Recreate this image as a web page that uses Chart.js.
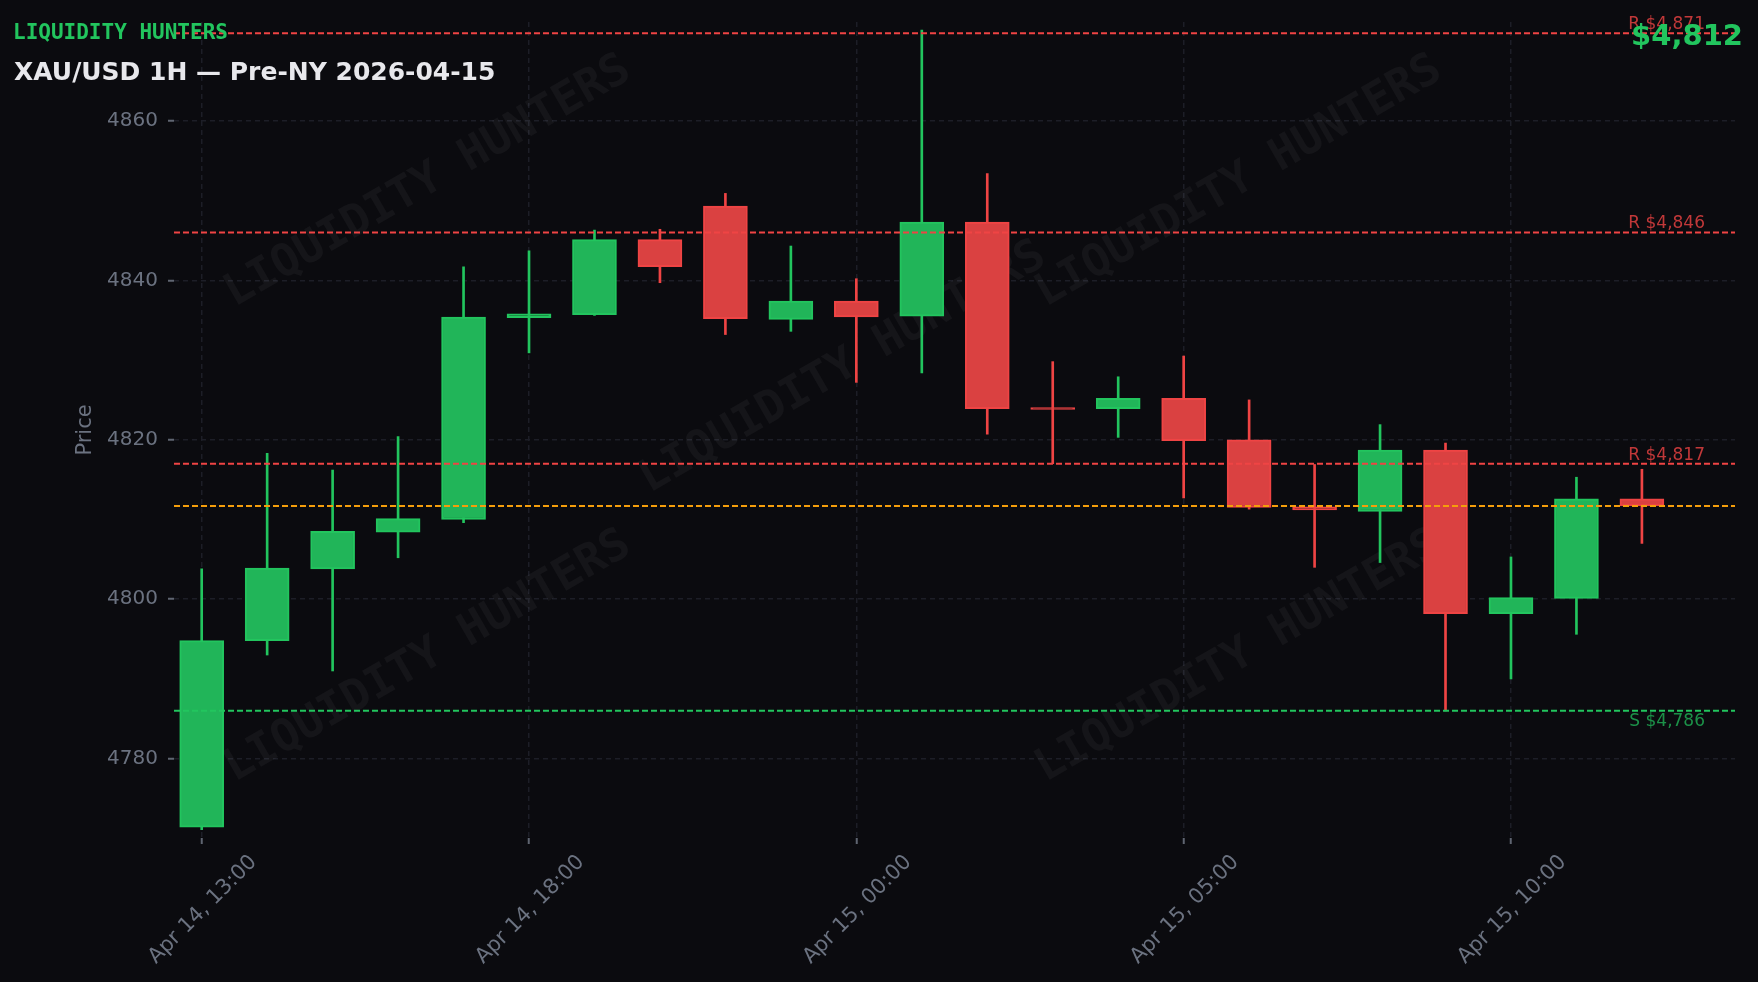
<!DOCTYPE html>
<html>
<head>
<meta charset="utf-8">
<script src="https://cdn.jsdelivr.net/npm/chart.js@4.4.1/dist/chart.umd.min.js"></script>
<style>
  html, body { margin: 0; padding: 0; background: #0b0b0f; }
  #wrap { position: relative; width: 1758px; height: 982px; overflow: hidden; background: #0b0b0f; }
  #c { position: absolute; left: 0; top: 0; }
  .t { position: absolute; white-space: nowrap; line-height: 1; }
  #brand { left: 13px; top: 22px; font: bold 21px/1 "DejaVu Sans Mono", monospace; color: #22c55e; }
  #title { left: 14px; top: 59px; font: bold 25px/1 "DejaVu Sans", sans-serif; color: #e8e8ec; }
  #price { right: 15px; top: 21px; font: bold 29px/1 "DejaVu Sans", sans-serif; color: #22c55e; }
</style>
</head>
<body>
<div id="wrap">
  <canvas id="c" width="1758" height="982" style="width:1758px;height:982px"></canvas>
  <div class="t" id="brand">LIQUIDITY HUNTERS</div>
  <div class="t" id="title">XAU/USD 1H — Pre-NY 2026-04-15</div>
  <div class="t" id="price"></div>
</div>
<script>
// ---- data ----
const times = [
  'Apr 14, 13:00','Apr 14, 14:00','Apr 14, 15:00','Apr 14, 16:00','Apr 14, 17:00',
  'Apr 14, 18:00','Apr 14, 19:00','Apr 14, 20:00','Apr 14, 21:00','Apr 14, 22:00',
  'Apr 15, 00:00','Apr 15, 01:00','Apr 15, 02:00','Apr 15, 03:00','Apr 15, 04:00',
  'Apr 15, 05:00','Apr 15, 06:00','Apr 15, 07:00','Apr 15, 08:00','Apr 15, 09:00',
  'Apr 15, 10:00','Apr 15, 11:00','Apr 15, 12:00'
];
const open  = [4771.4,4794.8,4803.8,4808.4,4810.0,4835.3,4835.7,4845.1,4849.3,4835.1,4837.4,4835.5,4847.3,4824.0,4823.9,4825.2,4820.0,4811.6,4811.0,4818.7,4798.2,4800.1,4812.6];
const high  = [4803.8,4818.3,4816.2,4820.4,4841.7,4843.7,4846.3,4846.4,4850.9,4844.3,4840.2,4871.4,4853.4,4829.8,4827.9,4830.5,4825.0,4816.9,4821.9,4819.6,4805.3,4815.3,4816.3];
const low   = [4771.1,4793.0,4791.0,4805.2,4809.6,4830.9,4835.6,4839.7,4833.2,4833.6,4827.2,4828.4,4820.7,4817.0,4820.3,4812.7,4811.3,4804.0,4804.6,4786.0,4790.0,4795.6,4807.0];
const close = [4794.8,4803.9,4808.5,4810.1,4835.4,4835.8,4845.1,4841.7,4835.2,4837.4,4835.4,4847.3,4823.9,4823.8,4825.2,4819.9,4811.5,4811.2,4818.7,4798.2,4800.2,4812.6,4811.7];
const xTickIdx = [0, 5, 10, 15, 20];
const yTicks = [4780, 4800, 4820, 4840, 4860];
const levelValues = [4871, 4846, 4817, 4786];
const levelKinds  = ['R', 'R', 'R', 'S'];

// ---- styling ----
const GREEN = '#22c55e', RED = '#ef4444', AMBER = '#f59e0b';
const GREEN_FILL = '#21b559', RED_FILL = '#da4141';
const TICK_TXT = '#6b7280';
const GRID = '#1d1e27';
const FONT = '"DejaVu Sans", sans-serif';

Chart.defaults.font.family = FONT;

const lastClose = close[close.length - 1];
document.getElementById('price').textContent = '$' + Math.round(lastClose).toLocaleString('en-US');

const isUp = close.map((c, i) => c >= open[i]);
const bodies = open.map((o, i) => ({ x: i, y: [o, close[i]] }));
const wicks  = low.map((l, i) => ({ x: i, y: [l, high[i]] }));

const watermarkPlugin = {
  id: 'watermark',
  beforeDatasetsDraw(chart) {
    const ctx = chart.ctx;
    const spots = [[428, 182], [1239, 182], [843, 368], [428, 657], [1239, 657]];
    ctx.save();
    ctx.font = 'bold 45px "DejaVu Sans Mono", monospace';
    ctx.fillStyle = 'rgba(255,255,255,0.045)';
    ctx.textAlign = 'center';
    ctx.textBaseline = 'middle';
    spots.forEach(([x, y]) => {
      ctx.save();
      ctx.translate(x, y);
      ctx.rotate(-Math.PI / 6);
      ctx.fillText('LIQUIDITY HUNTERS', 0, 0);
      ctx.restore();
    });
    ctx.restore();
  }
};

const levelPlugin = {
  id: 'levels',
  afterDatasetsDraw(chart) {
    const { ctx, chartArea: a, scales: { y } } = chart;
    ctx.save();
    ctx.lineWidth = 2;
    ctx.setLineDash([6, 3]);
    levelValues.forEach((v, i) => {
      const py = y.getPixelForValue(v);
      ctx.strokeStyle = levelKinds[i] === 'R' ? RED : GREEN;
      ctx.beginPath(); ctx.moveTo(a.left, py); ctx.lineTo(a.right, py); ctx.stroke();
    });
    const pc = y.getPixelForValue(lastClose);
    ctx.strokeStyle = AMBER;
    ctx.beginPath(); ctx.moveTo(a.left, pc); ctx.lineTo(a.right, pc); ctx.stroke();

    ctx.setLineDash([]);
    ctx.font = '17px ' + FONT;
    ctx.textAlign = 'right';
    ctx.textBaseline = 'alphabetic';
    levelValues.forEach((v, i) => {
      const py = y.getPixelForValue(v);
      const r = levelKinds[i] === 'R';
      ctx.fillStyle = r ? 'rgba(239,68,68,0.8)' : 'rgba(34,197,94,0.72)';
      ctx.fillText(levelKinds[i] + ' $' + v.toLocaleString('en-US'), a.right - 30, r ? py - 4 : py + 15);
    });
    ctx.restore();
  }
};

new Chart(document.getElementById('c'), {
  type: 'bar',
  data: {
    datasets: [
      {
        label: 'body',
        data: bodies,
        backgroundColor: isUp.map(u => u ? GREEN_FILL : RED_FILL),
        borderColor: isUp.map(u => u ? GREEN : RED),
        borderWidth: 2,
        borderSkipped: false,
        barThickness: 44,
        minBarLength: 2,
        grouped: false
      },
      {
        label: 'wick',
        data: wicks,
        backgroundColor: isUp.map(u => u ? GREEN : RED),
        borderWidth: 0,
        barThickness: 2,
        grouped: false
      }
    ]
  },
  options: {
    responsive: false,
    animation: false,
    devicePixelRatio: 1,
    layout: { padding: { top: 22, right: 23, left: 0, bottom: 0 } },
    plugins: { legend: { display: false }, tooltip: { enabled: false } },
    scales: {
      x: {
        type: 'linear',
        min: -0.423,
        max: 23.422,
        offset: false,
        grid: {
          offset: false, color: GRID, lineWidth: 1.5,
          drawTicks: true, tickLength: 6, tickWidth: 2, tickColor: '#5f6571', tickBorderDash: []
        },
        border: { display: false, dash: [5, 4] },
        ticks: {
          autoSkip: false, minRotation: 45, maxRotation: 45,
          color: TICK_TXT, font: { size: 21 }, padding: 6, labelOffset: 52,
          callback: (v) => times[v] ?? ''
        },
        afterBuildTicks: (s) => { s.ticks = xTickIdx.map(v => ({ value: v })); },
        afterFit: (s) => { s.height = 144; }
      },
      y: {
        type: 'linear',
        min: 4770.05,
        max: 4872.4,
        beginAtZero: false,
        grid: {
          color: GRID, lineWidth: 1.5,
          drawTicks: true, tickLength: 6, tickWidth: 2, tickColor: '#5f6571', tickBorderDash: []
        },
        border: { display: false, dash: [5, 4] },
        ticks: {
          color: TICK_TXT, font: { size: 20 }, padding: 10,
          callback: (v) => String(v)
        },
        title: {
          display: true, text: 'Price', color: TICK_TXT, font: { size: 21 },
          padding: { top: 73, bottom: 0 }
        },
        afterBuildTicks: (s) => { s.ticks = yTicks.map(v => ({ value: v })); },
        afterFit: (s) => { s.width = 174; }
      }
    }
  },
  plugins: [watermarkPlugin, levelPlugin]
});
</script>
</body>
</html>
